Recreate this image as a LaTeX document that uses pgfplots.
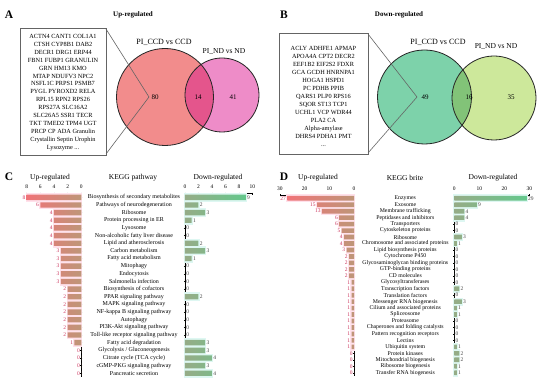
\documentclass[border=0pt]{standalone}
\usepackage{fontspec}
\setmainfont{Liberation Serif}
\usepackage{pgfplots}
\pgfplotsset{compat=1.18}
\definecolor{vA1}{RGB}{242,140,140}
\definecolor{vA2}{RGB}{238,140,200}
\definecolor{vA3}{RGB}{228,85,140}
\definecolor{vB1}{RGB}{125,210,170}
\definecolor{vB2}{RGB}{205,232,155}
\definecolor{vB3}{RGB}{130,195,120}
\definecolor{barRfar}{RGB}{240,115,120}
\definecolor{barRnear}{RGB}{190,150,120}
\definecolor{barGnear}{RGB}{150,172,135}
\definecolor{barGfar}{RGB}{100,200,140}
\definecolor{haloR}{RGB}{255,225,235}
\definecolor{haloG}{RGB}{222,247,242}
\definecolor{lblR}{RGB}{205,55,95}
\definecolor{lblG}{RGB}{70,70,70}
\definecolor{boxc}{RGB}{100,100,100}
\pgfplotsset{
  kegg/.style={
    scale only axis, clip=false,
    y dir=reverse,
    axis x line*=top,
    axis line style={black, line width=0.5pt, -},
    tick style={black, line width=0.4pt},
    major tick length=2pt,
    tick align=center,
    ticklabel style={font=\fontsize{5.5}{6}\selectfont},
    /pgf/number format/assume math mode=true,
    enlargelimits=false,
  },
  haloplot/.style={xbar, bar width=#1, line width=2.2pt, restrict x to domain=0.5:100, forget plot},
  lbl/.style={nodes near coords, every node near coord/.append style={anchor=#1, font=\fontsize{5.5}{6}\selectfont, inner sep=1.2pt}},
}
\begin{document}
\begin{tikzpicture}
\useasboundingbox (0,0) rectangle (550pt,-385pt);
\fill[white] (0,0) rectangle (550pt,-385pt);
\begin{scope}[x=1pt,y=-1pt]
% ---------- Panel A ----------
\node[font=\bfseries\fontsize{11.5}{12}\selectfont] at (9,15) {A};
\node[font=\bfseries\fontsize{7}{8}\selectfont] at (133,15) {Up-regulated};
\fill[vA1] (165,97) circle [radius=48.5pt];
\fill[vA2] (222,95) circle [radius=37pt];
\begin{scope}
\clip (165,97) circle [radius=48.5pt];
\fill[vA3] (222,95) circle [radius=37pt];
\end{scope}
\draw[line width=0.8pt, black!85] (165,97) circle [radius=48.5pt];
\draw[line width=0.8pt, black!85] (222,95) circle [radius=37pt];
\draw[boxc, line width=0.8pt] (20,28) rectangle (106,155);
\draw[boxc, line width=0.6pt] (106,29) -- (149,97) -- (106,154);
\node[font=\fontsize{6.3}{7.93}\selectfont, align=center] at (63,92.5) {ACTN4 CANT1 COL1A1\\CTSH CYP8B1 DAB2\\DECR1 DRG1 ERP44\\FBN1 FUBP1 GRANULIN\\GRN HM13 KMO\\MTAP NDUFV3 NPC2\\NSFL1C PRPS1 PSMB7\\PYGL PYROXD2 RELA\\RPL15 RPN2 RPS26\\RPS27A SLC16A2\\SLC26A5 SSR1 TECR\\TKT TMED2 TPM4 UGT\\PRCP CP ADA Granulin\\Crystallin Septin Urophin\\Lysozyme ...};
\node[font=\fontsize{8}{9}\selectfont] at (164,42) {PI\_CCD vs CCD};
\node[font=\fontsize{7.5}{9}\selectfont] at (224,52) {PI\_ND vs ND};
\node[font=\fontsize{7}{8}\selectfont] at (155,97) {80};
\node[font=\fontsize{7}{8}\selectfont] at (198,97) {14};
\node[font=\fontsize{7}{8}\selectfont] at (233,97) {41};
% ---------- Panel B ----------
\node[font=\bfseries\fontsize{11.5}{12}\selectfont] at (284,15) {B};
\node[font=\bfseries\fontsize{7}{8}\selectfont] at (399,15) {Down-regulated};
\fill[vB1] (424.5,97) circle [radius=47pt];
\fill[vB2] (494,98) circle [radius=42pt];
\begin{scope}
\clip (424.5,97) circle [radius=47pt];
\fill[vB3] (494,98) circle [radius=42pt];
\end{scope}
\draw[line width=0.8pt, black!85] (424.5,97) circle [radius=47pt];
\draw[line width=0.8pt, black!85] (494,98) circle [radius=42pt];
\draw[boxc, line width=0.8pt] (279,33) rectangle (368,154);
\draw[boxc, line width=0.6pt] (368,34) -- (417,97) -- (368,153);
\node[font=\fontsize{6.3}{8}\selectfont, align=center] at (323.5,96) {ACLY ADHFE1 APMAP\\APOA4A CPT2 DECR2\\EEF1B2 EIF2S2 FDXR\\GCA GCDH HNRNPA1\\HOGA1 HSPD1\\PC PDHB PPIB\\QARS1 PLP0 RPS16\\SQOR ST13 TCP1\\UCHL1 VCP WDR44\\PLA2 CA\\Alpha-amylase\\DHRS4 PDHA1 PMT\\...};
\node[font=\fontsize{8}{9}\selectfont] at (438,42) {PI\_CCD vs CCD};
\node[font=\fontsize{7.5}{9}\selectfont] at (496,47) {PI\_ND vs ND};
\node[font=\fontsize{7}{8}\selectfont] at (425,97) {49};
\node[font=\fontsize{7}{8}\selectfont] at (469,97) {16};
\node[font=\fontsize{7}{8}\selectfont] at (511,97) {35};
% ---------- Panel C / D titles ----------
\node[font=\bfseries\fontsize{11.5}{12}\selectfont] at (9,177) {C};
\node[font=\fontsize{7.5}{8}\selectfont] at (50,178) {Up-regulated};
\node[font=\fontsize{7.5}{8}\selectfont] at (133,178) {KEGG pathway};
\node[font=\fontsize{7.5}{8}\selectfont] at (218,178) {Down-regulated};
\node[font=\bfseries\fontsize{11.5}{12}\selectfont] at (284,177) {D};
\node[font=\fontsize{7.5}{8}\selectfont] at (318,178) {Up-regulated};
\node[font=\fontsize{7.5}{8}\selectfont] at (405,178) {KEGG brite};
\node[font=\fontsize{7.5}{8}\selectfont] at (493,178) {Down-regulated};
\end{scope}

% ---------- Panel C left ----------
\begin{axis}[kegg, axis y line*=right, at={(54pt,-285.3pt)}, anchor=center,
  width=54.6pt, height=183.6pt, x dir=reverse,
  xmin=0, xmax=8, xtick={0,2,4,6,8},
  ymin=-0.5, ymax=23.5, ytick={0,...,23}, yticklabels={}]
\addplot[haloplot=0.86, draw=haloR, fill=haloR] coordinates {(8,0) (6,1) (4,2) (4,3) (4,4) (4,5) (4,6) (3,7) (3,8) (3,9) (3,10) (3,11) (2,12) (2,13) (2,14) (2,15) (2,16) (2,17) (2,18) (1,19) (0,20) (0,21) (0,22) (0,23)};
\addplot[xbar, bar width=0.7, draw=none, left color=barRfar, right color=barRnear, lbl=east, every node near coord/.append style={text=lblR}] coordinates {(8,0) (6,1) (4,2) (4,3) (4,4) (4,5) (4,6) (3,7) (3,8) (3,9) (3,10) (3,11) (2,12) (2,13) (2,14) (2,15) (2,16) (2,17) (2,18) (1,19) (0,20) (0,21) (0,22) (0,23)};
\end{axis}

% ---------- Panel C right ----------
\begin{axis}[kegg, axis y line*=left, at={(218.75pt,-285.3pt)}, anchor=center,
  width=67.5pt, height=183.6pt,
  xmin=0, xmax=10, xtick={0,2,4,6,8,10},
  ymin=-0.5, ymax=23.5, ytick={0,...,23},
  yticklabels={Biosynthesis of secondary metabolites, Pathways of neurodegeneration, Ribosome, Protein processing in ER, Lysosome, Non-alcoholic fatty liver disease, Lipid and atherosclerosis, Carbon metabolism, Fatty acid metabolism, Mitophagy, Endocytosis, Salmonella infection, Biosynthesis of cofactors, PPAR signaling pathway, MAPK signaling pathway, NF-kappa B signaling pathway, Autophagy, PI3K-Akt signaling pathway, Toll-like receptor signaling pathway, Fatty acid degradation, Glycolysis / Gluconeogenesis, Citrate cycle (TCA cycle), cGMP-PKG signaling pathway, Pancreatic secretion},
  yticklabel style={anchor=center, xshift=-50pt, font=\fontsize{6}{6}\selectfont}]
\addplot[haloplot=0.86, draw=haloG, fill=haloG] coordinates {(9,0) (2,1) (3,2) (1,3) (0,4) (0,5) (2,6) (3,7) (1,8) (0,9) (0,10) (0,11) (0,12) (2,13) (0,14) (0,15) (0,16) (0,17) (0,18) (3,19) (3,20) (4,21) (3,22) (4,23)};
\addplot[xbar, bar width=0.7, draw=none, left color=barGnear, right color=barGfar, lbl=west, every node near coord/.append style={text=lblG}] coordinates {(9,0) (2,1) (3,2) (1,3) (0,4) (0,5) (2,6) (3,7) (1,8) (0,9) (0,10) (0,11) (0,12) (2,13) (0,14) (0,15) (0,16) (0,17) (0,18) (3,19) (3,20) (4,21) (3,22) (4,23)};
\end{axis}

% ---------- Panel D left ----------
\begin{axis}[kegg, axis y line*=right, at={(317pt,-285.5pt)}, anchor=center,
  width=74pt, height=180.9pt, x dir=reverse,
  xmin=0, xmax=30, xtick={0,10,20,30},
  ymin=-0.5, ymax=27.5, ytick={0,...,27}, yticklabels={}]
\addplot[haloplot=0.86, draw=haloR, fill=haloR] coordinates {(27,0) (15,1) (13,2) (6,3) (6,4) (5,5) (4,6) (4,7) (3,8) (2,9) (2,10) (2,11) (2,12) (1,13) (1,14) (1,15) (1,16) (1,17) (1,18) (1,19) (1,20) (1,21) (1,22) (1,23) (0,24) (0,25) (0,26) (0,27)};
\addplot[xbar, bar width=0.72, draw=none, left color=barRfar, right color=barRnear, lbl=east, every node near coord/.append style={text=lblR}] coordinates {(27,0) (15,1) (13,2) (6,3) (6,4) (5,5) (4,6) (4,7) (3,8) (2,9) (2,10) (2,11) (2,12) (1,13) (1,14) (1,15) (1,16) (1,17) (1,18) (1,19) (1,20) (1,21) (1,22) (1,23) (0,24) (0,25) (0,26) (0,27)};
\end{axis}

% ---------- Panel D right ----------
\begin{axis}[kegg, axis y line*=left, at={(491.8pt,-285.5pt)}, anchor=center,
  width=75pt, height=180.9pt,
  xmin=0, xmax=30, xtick={0,10,20,30},
  ymin=-0.5, ymax=27.5, ytick={0,...,27},
  yticklabels={Enzymes, Exosome, Membrane trafficking, Peptidases and inhibitors, Transporters, Cytoskeleton proteins, Ribosome, Chromosome and associated proteins, Lipid biosynthesis proteins, Cytochrome P450, Glycosaminoglycan binding proteins, GTP-binding proteins, CD molecules, Glycosyltransferases, Transcription factors, Translation factors, Messenger RNA biogenesis, Cilium and associated proteins, Spliceosome, Proteasome, Chaperones and folding catalysts, Pattern recognition receptors, Lectins, Ubiquitin system, Protein kinases, Mitochondrial biogenesis, Ribosome biogenesis, Transfer RNA biogenesis},
  yticklabel style={anchor=center, xshift=-48pt, font=\fontsize{5.8}{6}\selectfont}]
\addplot[haloplot=0.86, draw=haloG, fill=haloG] coordinates {(29,0) (9,1) (4,2) (4,3) (0,4) (0,5) (3,6) (1,7) (0,8) (0,9) (0,10) (0,11) (0,12) (0,13) (2,14) (0,15) (3,16) (1,17) (1,18) (0,19) (0,20) (0,21) (0,22) (1,23) (2,24) (2,25) (1,26) (1,27)};
\addplot[xbar, bar width=0.72, draw=none, left color=barGnear, right color=barGfar, lbl=west, every node near coord/.append style={text=lblG}] coordinates {(29,0) (9,1) (4,2) (4,3) (0,4) (0,5) (3,6) (1,7) (0,8) (0,9) (0,10) (0,11) (0,12) (0,13) (2,14) (0,15) (3,16) (1,17) (1,18) (0,19) (0,20) (0,21) (0,22) (1,23) (2,24) (2,25) (1,26) (1,27)};
\end{axis}
\end{tikzpicture}
\end{document}
